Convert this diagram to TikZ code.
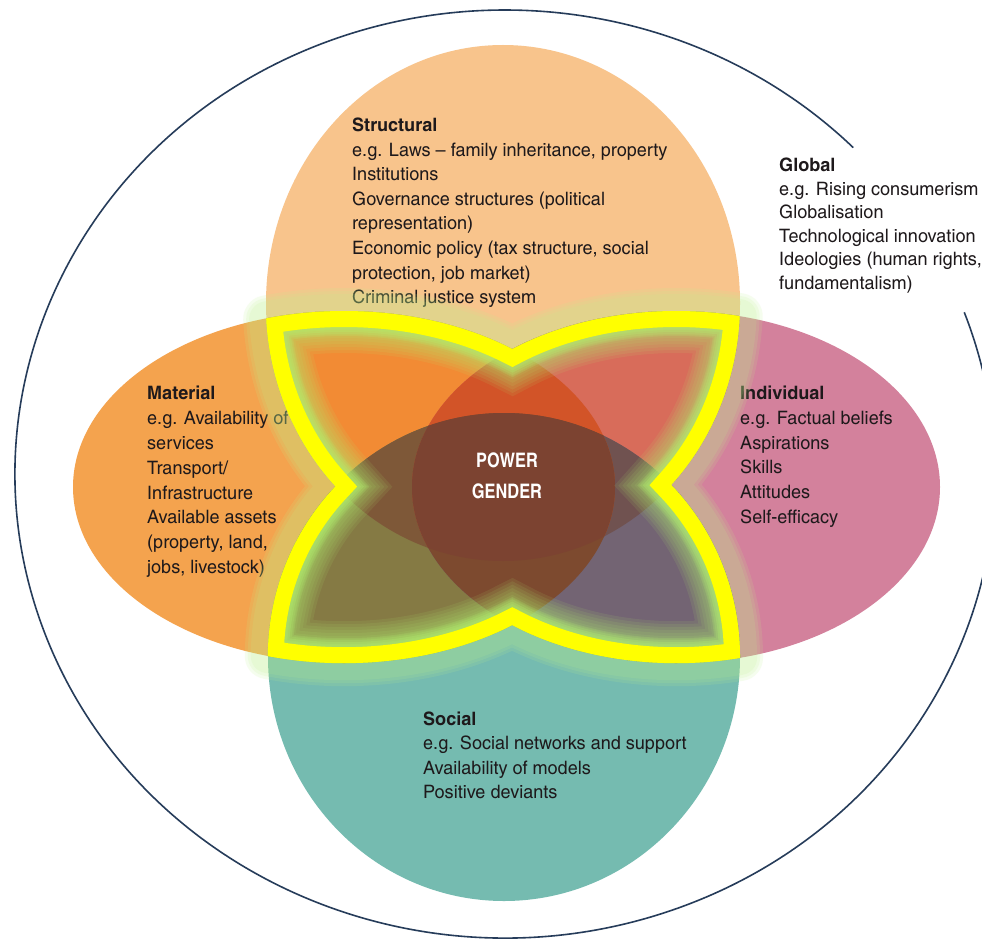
\documentclass[tikz,border=0pt]{standalone}
\usepackage{fontspec}
\setmainfont{texgyreheroscn}[Extension=.otf, UprightFont=*-regular, BoldFont=*-bold, FakeStretch=1.19]
\newfontfamily\corefont{texgyreheroscn}[Extension=.otf, UprightFont=*-bold]
\definecolor{ringcol}{RGB}{38,60,90}
\definecolor{cSt}{RGB}{248,196,140}
\definecolor{cSo}{RGB}{117,187,176}
\definecolor{cM}{RGB}{244,163,78}
\definecolor{cI}{RGB}{211,129,156}
\definecolor{cStM}{RGB}{242,139,52}
\definecolor{cStI}{RGB}{216,108,90}
\definecolor{cSoM}{RGB}{133,122,68}
\definecolor{cSoI}{RGB}{115,100,115}
\definecolor{cLensM}{RGB}{126,88,56}
\definecolor{cLensI}{RGB}{112,82,80}
\definecolor{cTop}{RGB}{210,84,40}
\definecolor{cMid}{RGB}{124,67,49}
\definecolor{cBot}{RGB}{125,74,47}
\definecolor{glowout}{RGB}{190,242,140}
\definecolor{glowin}{RGB}{178,240,112}
\definecolor{bandcol}{RGB}{255,255,0}
\definecolor{txtcol}{RGB}{30,25,27}
\tikzset{
  shSt/.style={insert path={(503,303) ellipse [x radius=237, y radius=258]}},
  shSo/.style={insert path={(504,657) ellipse [x radius=236, y radius=244]}},
  shM/.style={insert path={(344,487) ellipse [x radius=271, y radius=176]}},
  shI/.style={insert path={(676,487) ellipse [x radius=264, y radius=176]}},
  shU/.style={insert path={(344,487) ++(-106.6:271 and 176)
    arc[x radius=271, y radius=176, start angle=-106.6, end angle=-51.6]
    arc[x radius=264, y radius=176, start angle=-128.4, end angle=-76.1]
    arc[x radius=237, y radius=258, start angle=2.9, end angle=44.8]
    arc[x radius=236, y radius=244, start angle=-44.9, end angle=0.2]
    arc[x radius=264, y radius=176, start angle=76.0, end angle=128.4]
    arc[x radius=271, y radius=176, start angle=51.6, end angle=106.3]
    arc[x radius=236, y radius=244, start angle=180.3, end angle=224.5]
    arc[x radius=237, y radius=258, start angle=134.9, end angle=176.6] -- cycle}},
  txtblock/.style={align=left, inner sep=0pt, anchor=north west, text=txtcol},
}
\begin{document}
\begin{tikzpicture}[x=1pt, y=-1pt, line join=miter]
\useasboundingbox (0,0) rectangle (982,941);
\fill[white] (0,0) rectangle (982,941);
% outer ring with a gap for the Global text
\draw[ringcol, line width=1.6pt] (505,474) ++(-20.4:490 and 464)
  arc[x radius=490, y radius=464, start angle=-20.4, end angle=315.3];
% base ellipses
\fill[cSt, shSt];
\fill[cSo, shSo];
\fill[cM, shM];
\fill[cI, shI];
% texts
\node[txtblock, font=\fontsize{18.5}{24.6}\selectfont] (structural) at (352,117.7)
  {\textbf{Structural}\\e.g. Laws – family inheritance, property\\Institutions\\Governance structures (political\\representation)\\Economic policy (tax structure, social\\protection, job market)\\Criminal justice system};
\node[txtblock, font=\fontsize{18.5}{24.9}\selectfont] (material) at (147,385.7)
  {\textbf{Material}\\e.g. Availability of\\services\\Transport/\\Infrastructure\\Available assets\\(property, land,\\jobs, livestock)};
\node[txtblock, font=\fontsize{18.5}{24.8}\selectfont] (individual) at (740,385.7)
  {\textbf{Individual}\\e.g. Factual beliefs\\Aspirations\\Skills\\Attitudes\\Self-efficacy};
\node[txtblock, font=\fontsize{18.5}{24.4}\selectfont] (social) at (423,711.7)
  {\textbf{Social}\\e.g. Social networks and support\\Availability of models\\Positive deviants};
\node[txtblock, font=\fontsize{18.5}{23.6}\selectfont] (global) at (779,157.7)
  {\textbf{Global}\\e.g. Rising consumerism\\Globalisation\\Technological innovation\\Ideologies (human rights,\\fundamentalism)};
% outer glow
\foreach \w in {46,40,34} {
  \draw[glowout, line width=\w, line join=round, draw opacity=0.14, shU];
}
% overlap regions
\begin{scope}
  \clip[shSt];
  \fill[cStM, shM];
  \fill[cStI, shI];
\end{scope}
\begin{scope}
  \clip[shSo];
  \fill[cSoM, shM];
  \fill[cSoI, shI];
\end{scope}
\begin{scope}
  \clip[shSt];
  \clip[shSo];
  \fill[cLensM, shM];
  \fill[cLensI, shI];
\end{scope}
\begin{scope}
  \clip[shM];
  \clip[shI];
  \fill[cTop, shSt];
  \fill[cBot, shSo];
  \clip[shSt];
  \fill[cMid, shSo];
\end{scope}
% inner glow and yellow band
\begin{scope}
  \clip[shU];
  \foreach \w in {84,78,...,36} {
    \draw[glowin, line width=\w, draw opacity=0.1, shU];
  }
  \foreach \w in {50,46,42,38} {
    \draw[glowin, line width=\w, draw opacity=0.2, shU];
  }
  \draw[bandcol, line width=32, shU];
\end{scope}
\node[anchor=north, align=center, inner sep=0pt, text=white,
  font=\corefont\fontsize{20}{31}\selectfont] (core) at (507,453) {POWER\\GENDER};
\end{tikzpicture}
\end{document}
